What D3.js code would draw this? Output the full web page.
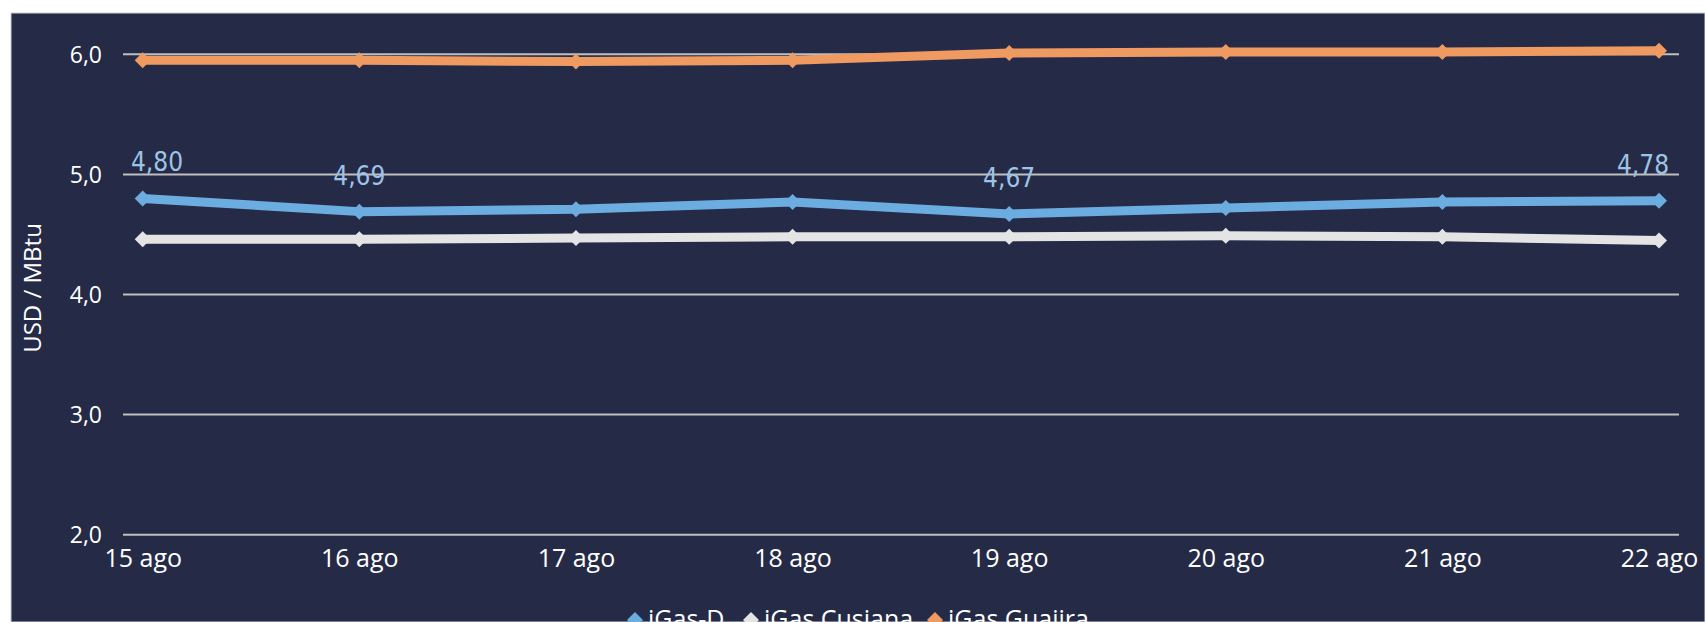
<!DOCTYPE html>
<html>
<head>
<meta charset="utf-8">
<script src="https://cdn.jsdelivr.net/npm/d3@7"></script>
<style>
body { margin: 0; background: #fff; }
svg { display: block; }
</style>
</head>
<body>
<svg id="svg0" width="1705" height="622"></svg>
<script>
var svg0 = d3.select('#svg0');

// data
var days = ['15 ago','16 ago','17 ago','18 ago','19 ago','20 ago','21 ago','22 ago'];
var igas_d = [4.80, 4.69, 4.71, 4.77, 4.67, 4.72, 4.77, 4.78];
var igas_cusiana = [4.46, 4.46, 4.47, 4.48, 4.48, 4.49, 4.48, 4.45];
var igas_guajira = [5.95, 5.95, 5.94, 5.95, 6.01, 6.02, 6.02, 6.03];
var y_ticks = [2, 3, 4, 5, 6];
var labelled_days = ['15 ago','16 ago','19 ago','22 ago'];

var series = [
	{name: 'iGas-D', values: igas_d, color: '#6cade1'},
	{name: 'iGas Cusiana', values: igas_cusiana, color: '#e4e4e4'},
	{name: 'iGas Guajira', values: igas_guajira, color: '#ee9a60'}
];
// draw order: white first, then blue, then orange on top
var draw_order = [1, 0, 2];

var bg = '#252b46';
var grid_left = 123, grid_right = 1679;

svg0.append('rect').attr('x', 11).attr('y', 13).attr('width', 1705-11).attr('height', 622-13)
	.attr('fill', bg).attr('stroke', '#d0d0d0').attr('stroke-width', 1);

var x = d3.scalePoint().domain(days).range([142.7, 1659]);
var y = d3.scaleLinear().domain([2, 6]).range([534.7, 54.3]);

// gridlines
svg0.selectAll('.grid').data(y_ticks).enter().append('line').attr('class', 'grid')
	.attr('x1', grid_left).attr('x2', grid_right)
	.attr('y1', d => y(d)).attr('y2', d => y(d))
	.attr('stroke', '#bfbfbf').attr('stroke-width', 2);

// y axis labels
var y_axis = d3.axisLeft(y).tickValues(y_ticks).tickSize(0).tickPadding(0)
	.tickFormat(d => d3.format('.1f')(d).replace('.', ','));
var yg = svg0.append('g').attr('transform', 'translate(102,0)').call(y_axis);
yg.select('.domain').remove();
yg.selectAll('text').attr('fill', '#ffffff').attr('font-family', 'Open Sans, sans-serif')
	.attr('font-size', 23).attr('dy', '0.36em');

// x axis labels
var x_axis = d3.axisBottom(x).tickSize(0).tickPadding(0);
var xg = svg0.append('g').attr('transform', 'translate(0,543)').call(x_axis);
xg.select('.domain').remove();
xg.selectAll('text').attr('fill', '#ffffff').attr('font-family', 'Open Sans, sans-serif')
	.attr('font-size', 25).attr('dy', '0.95em');

// y title
svg0.append('text').attr('transform', 'translate(41,288) rotate(-90)')
	.attr('text-anchor', 'middle').attr('fill', '#ffffff')
	.attr('font-family', 'Open Sans, sans-serif').attr('font-size', 24)
	.text('USD / MBtu');

var line = d3.line().x((d, i) => x(days[i])).y(d => y(d));
var diamond = function(cx, cy, r) {
	return 'M' + cx + ',' + (cy-r) + 'L' + (cx+r) + ',' + cy + 'L' + cx + ',' + (cy+r) + 'L' + (cx-r) + ',' + cy + 'Z';
};

draw_order.forEach(function(k) {
	var s = series[k];
	var g = svg0.append('g');
	g.append('path').datum(s.values).attr('d', line)
		.attr('fill', 'none').attr('stroke', s.color).attr('stroke-width', 9)
		.attr('stroke-linejoin', 'round');
	g.selectAll('path.mk').data(s.values).enter().append('path').attr('class', 'mk')
		.attr('d', (d, i) => diamond(x(days[i]), y(d), 8))
		.attr('fill', s.color);
});

// data labels on iGas-D
svg0.selectAll('.dlabel').data(labelled_days).enter().append('text').attr('class', 'dlabel')
	.attr('x', d => Math.min(Math.max(x(d), 157), 1643))
	.attr('y', d => y(igas_d[days.indexOf(d)]) - 27)
	.attr('text-anchor', 'middle').attr('fill', '#9dc3e6')
	.attr('font-family', 'DejaVu Sans Condensed, sans-serif').attr('font-size', 26)
	.text(d => d3.format('.2f')(igas_d[days.indexOf(d)]).replace('.', ','));

// legend
var legend_x = [635, 751, 935];
var lg = svg0.selectAll('.legend').data(series).enter().append('g').attr('class', 'legend')
	.attr('transform', (d, i) => 'translate(' + legend_x[i] + ',628)');
lg.append('path').attr('d', diamond(0, -8, 8)).attr('fill', d => d.color);
lg.append('text').attr('x', 13).attr('y', 0).attr('fill', '#ffffff')
	.attr('font-family', 'Open Sans, sans-serif').attr('font-size', 25)
	.text(d => d.name);
</script>
</body>
</html>
